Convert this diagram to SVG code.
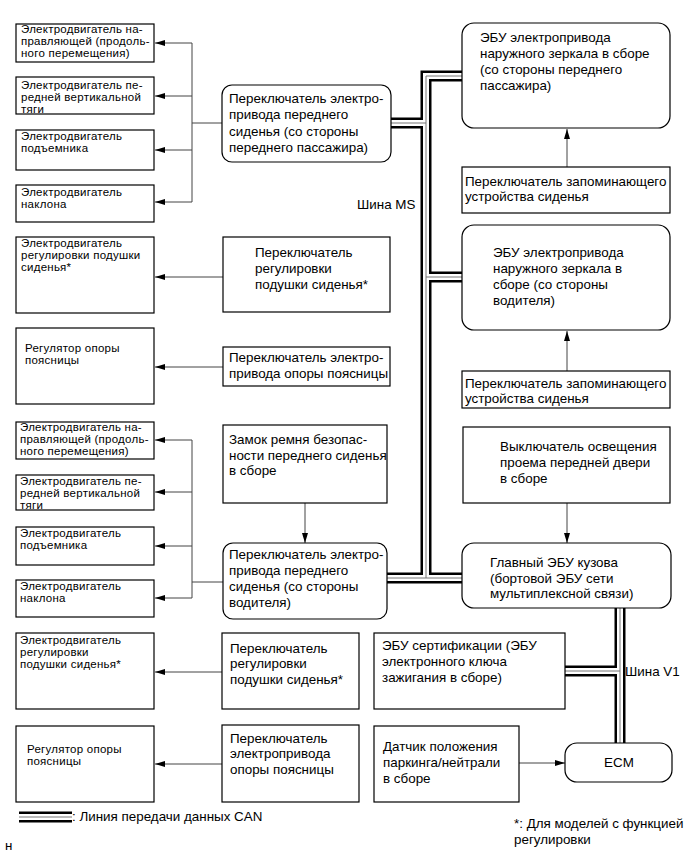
<svg xmlns="http://www.w3.org/2000/svg" width="691" height="855" viewBox="0 0 691 855">
<style>
.box{fill:#fff;stroke:#000;stroke-width:1.2}
text{font-family:"Liberation Sans",Arial,sans-serif;font-size:13.4px;fill:#000}
.s{font-size:11.5px;letter-spacing:0.25px}
.c{fill:none;stroke:#444;stroke-width:1}
.bk{fill:none;stroke:#000;stroke-width:11}
.wh{fill:none;stroke:#fff;stroke-width:6}
.gr{fill:none;stroke:#777;stroke-width:1}
</style>
<defs>
<marker id="ah" markerWidth="10" markerHeight="8" refX="10" refY="4" orient="auto" markerUnits="userSpaceOnUse"><path d="M0,1 L10,4 L0,7 z" fill="#000"/></marker>
</defs>
<rect width="691" height="855" fill="#fff"/>

<g id="connectors">
<g id="bus">
<path class="bk" d="M462,76 H426 V578 M391,123 H426 M426,277 H462 M387,578 H462 M620,608 V743 M565,671 H620 M19,817 H72"/>
<path class="wh" d="M462,76 H426 V578 M391,123 H426 M426,277 H462 M387,578 H462 M620,608 V743 M565,671 H620 M19,817 H72"/>
<path class="gr" d="M462,76 H426 V578 M391,123 H426 M426,277 H462 M387,578 H462 M620,608 V743 M565,671 H620 M19,817 H72"/>
</g>
<path class="c" d="M222,123 H192 M192,43 V202 M223,582 H192 M192,440 V598"/>
<g marker-end="url(#ah)">
<path class="c" d="M192,43 H155"/>
<path class="c" d="M192,96 H155"/>
<path class="c" d="M192,150 H155"/>
<path class="c" d="M192,202 H155"/>
<path class="c" d="M223,277 H155"/>
<path class="c" d="M223,367 H155"/>
<path class="c" d="M192,440 H155"/>
<path class="c" d="M192,492 H155"/>
<path class="c" d="M192,546 H155"/>
<path class="c" d="M192,598 H155"/>
<path class="c" d="M222,672 H155"/>
<path class="c" d="M222,764 H155"/>
<path class="c" d="M305,503 V543"/>
<path class="c" d="M567,167 V129"/>
<path class="c" d="M567,371 V331"/>
<path class="c" d="M567,503 V543"/>
<path class="c" d="M519,763 H565"/>
</g>
</g>

<g id="L1"><rect class="box" x="16" y="24" width="138" height="38"/><text class="s" x="21" y="33">Электродвигатель на-</text><text class="s" x="21" y="45">правляющей (продоль-</text><text class="s" x="21" y="57">ного перемещения)</text></g>
<g id="L2"><rect class="box" x="16" y="77" width="138" height="37"/><text class="s" x="21" y="89">Электродвигатель пе-</text><text class="s" x="21" y="101">редней вертикальной</text><text class="s" x="21" y="113">тяги</text></g>
<g id="L3"><rect class="box" x="16" y="130" width="138" height="40"/><text class="s" x="21" y="140">Электродвигатель</text><text class="s" x="21" y="152">подъемника</text></g>
<g id="L4"><rect class="box" x="16" y="185" width="138" height="37"/><text class="s" x="21" y="196">Электродвигатель</text><text class="s" x="21" y="208">наклона</text></g>
<g id="L5"><rect class="box" x="16" y="237" width="138" height="76"/><text class="s" x="21" y="247">Электродвигатель</text><text class="s" x="21" y="259">регулировки подушки</text><text class="s" x="21" y="271">сиденья*</text></g>
<g id="L6"><rect class="box" x="16" y="328" width="138" height="76"/><text class="s" x="25" y="352">Регулятор опоры</text><text class="s" x="25" y="364">поясницы</text></g>
<g id="L7"><rect class="box" x="16" y="422" width="138" height="37"/><text class="s" x="20" y="431">Электродвигатель на-</text><text class="s" x="20" y="443">правляющей (продоль-</text><text class="s" x="20" y="455">ного перемещения)</text></g>
<g id="L8"><rect class="box" x="16" y="475" width="138" height="35"/><text class="s" x="20" y="485">Электродвигатель пе-</text><text class="s" x="20" y="497">редней вертикальной</text><text class="s" x="20" y="509">тяги</text></g>
<g id="L9"><rect class="box" x="16" y="527" width="138" height="38"/><text class="s" x="20" y="537">Электродвигатель</text><text class="s" x="20" y="549">подъемника</text></g>
<g id="L10"><rect class="box" x="16" y="580" width="138" height="37"/><text class="s" x="20" y="590">Электродвигатель</text><text class="s" x="20" y="602">наклона</text></g>
<g id="L11"><rect class="box" x="16" y="633" width="138" height="76"/><text class="s" x="20" y="644">Электродвигатель</text><text class="s" x="20" y="656">регулировки</text><text class="s" x="20" y="668">подушки сиденья*</text></g>
<g id="L12"><rect class="box" x="16" y="726" width="138" height="76"/><text class="s" x="27" y="753">Регулятор опоры</text><text class="s" x="27" y="765">поясницы</text></g>

<g id="M1"><rect class="box" x="222" y="85" width="169" height="77" rx="10"/><text x="229" y="103">Переключатель электро-</text><text x="229" y="119">привода переднего</text><text x="229" y="136">сиденья (со стороны</text><text x="229" y="152">переднего пассажира)</text></g>
<g id="M2"><rect class="box" x="223" y="237" width="167" height="75"/><text x="255" y="257">Переключатель</text><text x="255" y="273">регулировки</text><text x="255" y="289">подушки сиденья*</text></g>
<g id="M3"><rect class="box" x="223" y="347" width="167" height="39"/><text x="229" y="362">Переключатель электро-</text><text x="229" y="378">привода опоры поясницы</text></g>
<g id="M4"><rect class="box" x="223" y="425" width="164" height="78"/><text x="229" y="444">Замок ремня безопас-</text><text x="229" y="460">ности переднего сиденья</text><text x="229" y="475">в сборе</text></g>
<g id="M5"><rect class="box" x="223" y="543" width="164" height="76" rx="10"/><text x="229" y="559">Переключатель электро-</text><text x="229" y="575">привода переднего</text><text x="229" y="591">сиденья (со стороны</text><text x="229" y="607">водителя)</text></g>
<g id="M6"><rect class="box" x="222" y="633" width="137" height="76"/><text x="230" y="653">Переключатель</text><text x="230" y="668">регулировки</text><text x="230" y="684">подушки сиденья*</text></g>
<g id="M7"><rect class="box" x="222" y="725" width="137" height="77"/><text x="230" y="743">Переключатель</text><text x="230" y="758">электропривода</text><text x="230" y="774">опоры поясницы</text></g>

<g id="R1"><rect class="box" x="462" y="23" width="208" height="105" rx="12"/><text x="480" y="42">ЭБУ электропривода</text><text x="480" y="58">наружного зеркала в сборе</text><text x="480" y="74">(со стороны переднего</text><text x="480" y="90">пассажира)</text></g>
<g id="R2"><rect class="box" x="462" y="167" width="208" height="46"/><text x="465" y="186">Переключатель запоминающего</text><text x="465" y="201">устройства сиденья</text></g>
<g id="R3"><rect class="box" x="462" y="225" width="208" height="105" rx="12"/><text x="493" y="257">ЭБУ электропривода</text><text x="493" y="273">наружного зеркала в</text><text x="493" y="289">сборе (со стороны</text><text x="493" y="305">водителя)</text></g>
<g id="R4"><rect class="box" x="462" y="371" width="208" height="37"/><text x="465" y="388">Переключатель запоминающего</text><text x="465" y="403">устройства сиденья</text></g>
<g id="R5"><rect class="box" x="463" y="427" width="207" height="76"/><text x="500" y="451">Выключатель освещения</text><text x="500" y="467">проема передней двери</text><text x="500" y="483">в сборе</text></g>
<g id="R6"><rect class="box" x="462" y="543" width="209" height="65" rx="12"/><text x="490" y="567">Главный ЭБУ кузова</text><text x="490" y="583">(бортовой ЭБУ сети</text><text x="490" y="598">мультиплексной связи)</text></g>
<g id="R7"><rect class="box" x="374" y="633" width="191" height="76"/><text x="382" y="650">ЭБУ сертификации (ЭБУ</text><text x="382" y="666">электронного ключа</text><text x="382" y="682">зажигания в сборе)</text></g>
<g id="R8"><rect class="box" x="374" y="726" width="145" height="76"/><text x="383" y="751">Датчик положения</text><text x="383" y="767">паркинга/нейтрали</text><text x="383" y="783">в сборе</text></g>
<g id="R9"><rect class="box" x="565" y="743" width="107" height="39" rx="12"/><text x="619" y="767" text-anchor="middle">ECM</text></g>

<g id="labels">
<text x="357" y="209">Шина MS</text>
<text x="625" y="676">Шина V1</text>
<text x="72" y="821">: Линия передачи данных CAN</text>
<text x="5" y="850">н</text>
<text x="514" y="828">*: Для моделей с функцией</text>
<text x="514" y="844">регулировки</text>
</g>
</svg>
